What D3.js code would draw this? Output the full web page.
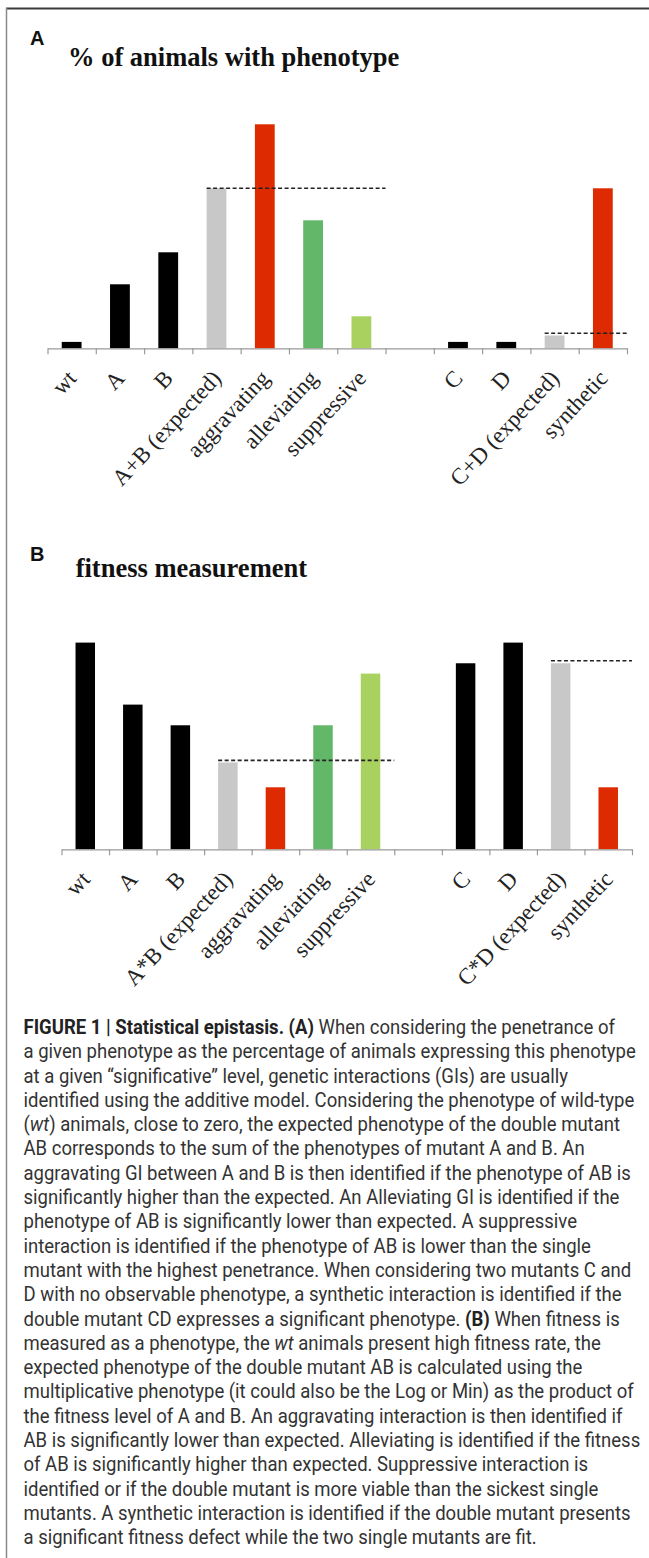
<!DOCTYPE html>
<html><head><meta charset="utf-8">
<script src="https://cdn.jsdelivr.net/npm/d3@7"></script>
<style>
body{margin:0;background:#fff;}
svg{display:block;}
</style>
</head><body>
<svg id="chart" width="649" height="1558"></svg>
<script>
// ---- data ----
const categoriesA = ["wt","A","B","A+B (expected)","aggravating","alleviating","suppressive","","C","D","C+D (expected)","synthetic"];
const valuesA = [2, 20, 30, 50, 70, 40, 10, null, 2, 2, 4, 50];
const kindsA = ["single","single","single","expected","aggravating","alleviating","suppressive",null,"single","single","expected","synthetic"];
const expectedA = [
  {from:"A+B (expected)", to:"suppressive", value:50},
  {from:"C+D (expected)", to:"synthetic", value:4.7}
];

const categoriesB = ["wt","A","B","A*B (expected)","aggravating","alleviating","suppressive","","C","D","C*D (expected)","synthetic"];
const valuesB = [1.0, 0.70, 0.60, 0.42, 0.30, 0.60, 0.85, null, 0.90, 1.0, 0.90, 0.30];
const kindsB = ["single","single","single","expected","aggravating","alleviating","suppressive",null,"single","single","expected","synthetic"];
const expectedB = [
  {from:"A*B (expected)", to:"suppressive", value:0.43},
  {from:"C*D (expected)", to:"synthetic", value:0.912}
];

const captionLines = [
  "**FIGURE 1 | Statistical epistasis. (A)** When considering the penetrance of",
  "a given phenotype as the percentage of animals expressing this phenotype",
  "at a given \u201csignificative\u201d level, genetic interactions (GIs) are usually",
  "identified using the additive model. Considering the phenotype of wild-type",
  "(_wt_) animals, close to zero, the expected phenotype of the double mutant",
  "AB corresponds to the sum of the phenotypes of mutant A and B. An",
  "aggravating GI between A and B is then identified if the phenotype of AB is",
  "significantly higher than the expected. An Alleviating GI is identified if the",
  "phenotype of AB is significantly lower than expected. A suppressive",
  "interaction is identified if the phenotype of AB is lower than the single",
  "mutant with the highest penetrance. When considering two mutants C and",
  "D with no observable phenotype, a synthetic interaction is identified if the",
  "double mutant CD expresses a significant phenotype. **(B)** When fitness is",
  "measured as a phenotype, the _wt_ animals present high fitness rate, the",
  "expected phenotype of the double mutant AB is calculated using the",
  "multiplicative phenotype (it could also be the Log or Min) as the product of",
  "the fitness level of A and B. An aggravating interaction is then identified if",
  "AB is significantly lower than expected. Alleviating is identified if the fitness",
  "of AB is significantly higher than expected. Suppressive interaction is",
  "identified or if the double mutant is more viable than the sickest single",
  "mutants. A synthetic interaction is identified if the double mutant presents",
  "a significant fitness defect while the two single mutants are fit."
];

// ---- styles ----
const colors = {single:"#000000", expected:"#c8c8c8", aggravating:"#dd2a00", alleviating:"#62b868", suppressive:"#a9d160", synthetic:"#dd2a00"};
const svg = d3.select("#chart");

// frame
svg.append("line").attr("x1",6).attr("x2",649).attr("y1",8.5).attr("y2",8.5)
  .attr("stroke","#3a3a3a").attr("stroke-width",2);
svg.append("line").attr("x1",6.5).attr("x2",6.5).attr("y1",8).attr("y2",1558)
  .attr("stroke","#8a8a8a").attr("stroke-width",1.5);

function drawPanel(cfg){
  const g = svg.append("g");
  const x = d3.scaleBand().domain(cfg.categories).range([cfg.x0, cfg.x1]).padding(0);
  const y = d3.scaleLinear().domain([0, cfg.yMax]).range([cfg.axisY, cfg.axisY - cfg.height]);
  const bw = x.bandwidth();
  const barW = bw * 0.41;
  const data = cfg.categories.map((c,i)=>({cat:c, v:cfg.values[i], kind:cfg.kinds[i]})).filter(d=>d.v!=null);

  // letter + title
  g.append("text").attr("x",30).attr("y",cfg.letterY).text(cfg.letter)
    .attr("font-family","Liberation Sans, Arial, sans-serif").attr("font-weight","bold")
    .attr("font-size",20).attr("fill","#111");
  g.append("text").attr("x",cfg.titleX).attr("y",cfg.titleY).text(cfg.title)
    .attr("font-family","Liberation Serif, Times New Roman, serif").attr("font-weight","bold")
    .attr("font-size",26.5).attr("fill","#111");

  // bars
  g.selectAll("rect.bar").data(data).join("rect").attr("class","bar")
    .attr("x", d=>x(d.cat) + (bw-barW)/2)
    .attr("width", barW)
    .attr("y", d=>y(d.v))
    .attr("height", d=>y(0)-y(d.v))
    .attr("fill", d=>colors[d.kind]);

  // axis with ticks at band boundaries
  const xb = d3.scaleLinear().domain([0, cfg.categories.length]).range([cfg.x0, cfg.x1]);
  const ax = g.append("g").attr("transform",`translate(0,${cfg.axisY})`)
    .call(d3.axisBottom(xb).tickValues(d3.range(cfg.categories.length+1)).tickFormat("").tickSize(6).tickSizeOuter(0));
  ax.select(".domain").attr("stroke","#9a9a9a").attr("stroke-width",1.2);
  ax.selectAll(".tick line").attr("stroke","#9a9a9a").attr("stroke-width",1.2);

  // expected dashed lines
  cfg.expected.forEach(e=>{
    g.append("line")
      .attr("x1", x(e.from) + (bw-barW)/2)
      .attr("x2", x(e.to) + bw)
      .attr("y1", y(e.value)).attr("y2", y(e.value))
      .attr("stroke","#222").attr("stroke-width",1.6).attr("stroke-dasharray","4,2.5");
  });

  // rotated labels
  g.selectAll("text.lab").data(cfg.categories.filter(c=>c!=="")).join("text").attr("class","lab")
    .attr("transform", c=>`translate(${x(c)+bw/2+6},${cfg.axisY+31}) rotate(-47)`)
    .attr("text-anchor","end")
    .attr("font-family","Liberation Serif, Times New Roman, serif")
    .attr("font-size",23).attr("fill","#222")
    .text(c=>c);
}

drawPanel({categories:categoriesA, values:valuesA, kinds:kindsA, expected:expectedA,
  x0:47.5, x1:627, axisY:348.3, height:320, yMax:100,
  letter:"A", letterY:45, title:"% of animals with phenotype", titleX:68, titleY:66});
drawPanel({categories:categoriesB, values:valuesB, kinds:kindsB, expected:expectedB,
  x0:61.5, x1:632, axisY:849.3, height:206.7, yMax:1,
  letter:"B", letterY:561, title:"fitness measurement", titleX:75.7, titleY:577});

// caption
const cap = svg.append("g");
const capText = cap.selectAll("text").data(captionLines).join("text")
  .attr("x",0).attr("y",(d,i)=>1034 + i*24.3)
  .attr("font-family","Roboto, Liberation Sans, sans-serif")
  .attr("font-size",20).attr("fill","#333");
capText.each(function(line){
  const t = d3.select(this);
  const parts = line.split(/(\*\*[^*]+\*\*|_[^_]+_)/).filter(s=>s.length);
  parts.forEach(p=>{
    if(p.startsWith("**")) t.append("tspan").attr("font-weight","bold").attr("fill","#222").text(p.slice(2,-2));
    else if(p.startsWith("_")) t.append("tspan").attr("font-style","italic").text(p.slice(1,-1));
    else t.append("tspan").text(p);
  });
});
const wMax = d3.max(capText.nodes(), n=>n.getComputedTextLength());
const sx = 617 / wMax;
cap.attr("transform",`translate(23.5,0) scale(${sx},1)`);
</script>
</body></html>
